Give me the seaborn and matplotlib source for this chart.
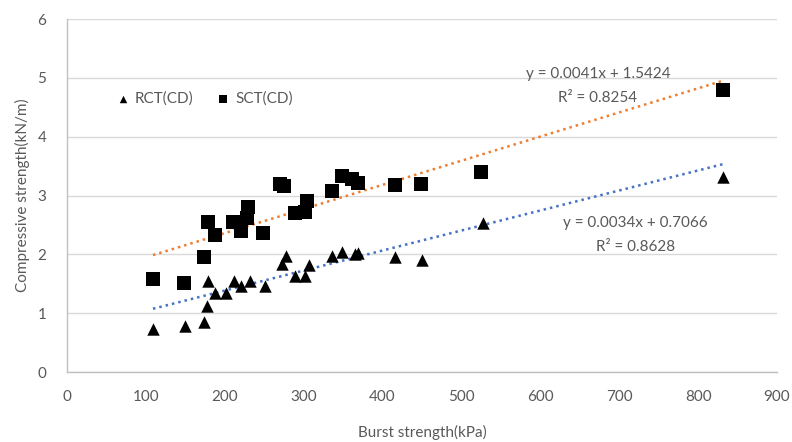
import matplotlib
matplotlib.use("Agg")
import matplotlib.pyplot as plt
import seaborn as sns
import numpy as np
import pandas as pd

# ---- data ----
rct_x = [109, 149, 174, 178, 179, 188, 202, 212, 221, 232, 251, 272, 277, 289,
         302, 307, 336, 349, 365, 369, 416, 450, 527, 832]
rct_y = [0.73, 0.78, 0.85, 1.12, 1.55, 1.34, 1.34, 1.55, 1.46, 1.55, 1.46, 1.84,
         1.97, 1.63, 1.63, 1.82, 1.97, 2.04, 2.01, 2.02, 1.95, 1.90, 2.53, 3.31]
sct_x = [109, 148, 174, 179, 187, 211, 221, 228, 230, 249, 270, 275, 289, 302,
         304, 336, 349, 361, 369, 416, 449, 525, 832]
sct_y = [1.58, 1.51, 1.95, 2.55, 2.33, 2.55, 2.40, 2.62, 2.80, 2.36, 3.20, 3.17,
         2.70, 2.72, 2.91, 3.08, 3.33, 3.28, 3.22, 3.18, 3.20, 3.40, 4.79]
rct_fit = (0.0034, 0.7066, 0.8628)
sct_fit = (0.0041, 1.5424, 0.8254)
series_names = ["RCT(CD)", "SCT(CD)"]
x_ticks = [0, 100, 200, 300, 400, 500, 600, 700, 800, 900]
y_ticks = [0, 1, 2, 3, 4, 5, 6]

sns.set_theme(style="white")
plt.rcParams['font.family'] = ['Lato', 'DejaVu Sans']
grey = "#595959"

fig = plt.figure(figsize=(7.92, 4.42), dpi=100)
ax = fig.add_axes([0.0846, 0.158, 0.8964, 0.799])

df = pd.concat([
    pd.DataFrame({"x": rct_x, "y": rct_y, "s": series_names[0]}),
    pd.DataFrame({"x": sct_x, "y": sct_y, "s": series_names[1]}),
])

# trendlines
for xs, fit, col in [(rct_x, rct_fit, "#4472C4"), (sct_x, sct_fit, "#ED7D31")]:
    xr = np.array([min(xs), max(xs)])
    ax.plot(xr, fit[0] * xr + fit[1], color=col, lw=1.8, ls=(0, (1, 1.6)),
            zorder=2)

sns.scatterplot(data=df[df.s == series_names[0]], x="x", y="y", marker="^",
                color="black", s=80, edgecolor="black", linewidth=0,
                ax=ax, zorder=3, label=series_names[0])
sns.scatterplot(data=df[df.s == series_names[1]], x="x", y="y", marker="s",
                color="black", s=95, edgecolor="black", linewidth=0,
                ax=ax, zorder=3, label=series_names[1])

ax.set_xlim(0, 900)
ax.set_ylim(0, 6)
ax.set_xticks(x_ticks)
ax.set_yticks(y_ticks)
ax.tick_params(axis="both", length=0, labelsize=11, colors=grey)
ax.tick_params(axis="x", pad=13)
ax.tick_params(axis="y", pad=15)
ax.grid(axis="y", color="#d9d9d9", lw=1)
ax.grid(axis="x", visible=False)
for side in ["top", "right"]:
    ax.spines[side].set_visible(False)
for side in ["left", "bottom"]:
    ax.spines[side].set_color("#bfbfbf")
    ax.spines[side].set_linewidth(1)

ax.set_xlabel("Burst strength(kPa)", fontsize=11, color=grey, labelpad=15)
ax.set_ylabel("Compressive strength(kN/m)", fontsize=11, color=grey, labelpad=5)

fs = 11
ax.text(673, 5.07, f"y = {sct_fit[0]}x + {sct_fit[1]}", ha="center", va="center",
        fontsize=fs, color=grey)
ax.text(673, 4.66, f"R² = {sct_fit[2]}", ha="center", va="center",
        fontsize=fs, color=grey)
ax.text(721, 2.53, f"y = {rct_fit[0]}x + {rct_fit[1]}", ha="center", va="center",
        fontsize=fs, color=grey)
ax.text(721, 2.12, f"R² = {rct_fit[2]}", ha="center", va="center",
        fontsize=fs, color=grey)

leg = ax.legend(loc="center left", bbox_to_anchor=(0.07, 0.775), ncol=2,
                frameon=False, fontsize=11, handlelength=0.8, handletextpad=0.4,
                columnspacing=1.5, markerscale=0.6, borderaxespad=0,
                borderpad=0)
for t in leg.get_texts():
    t.set_color(grey)

fig.savefig("out.png", dpi=100)
